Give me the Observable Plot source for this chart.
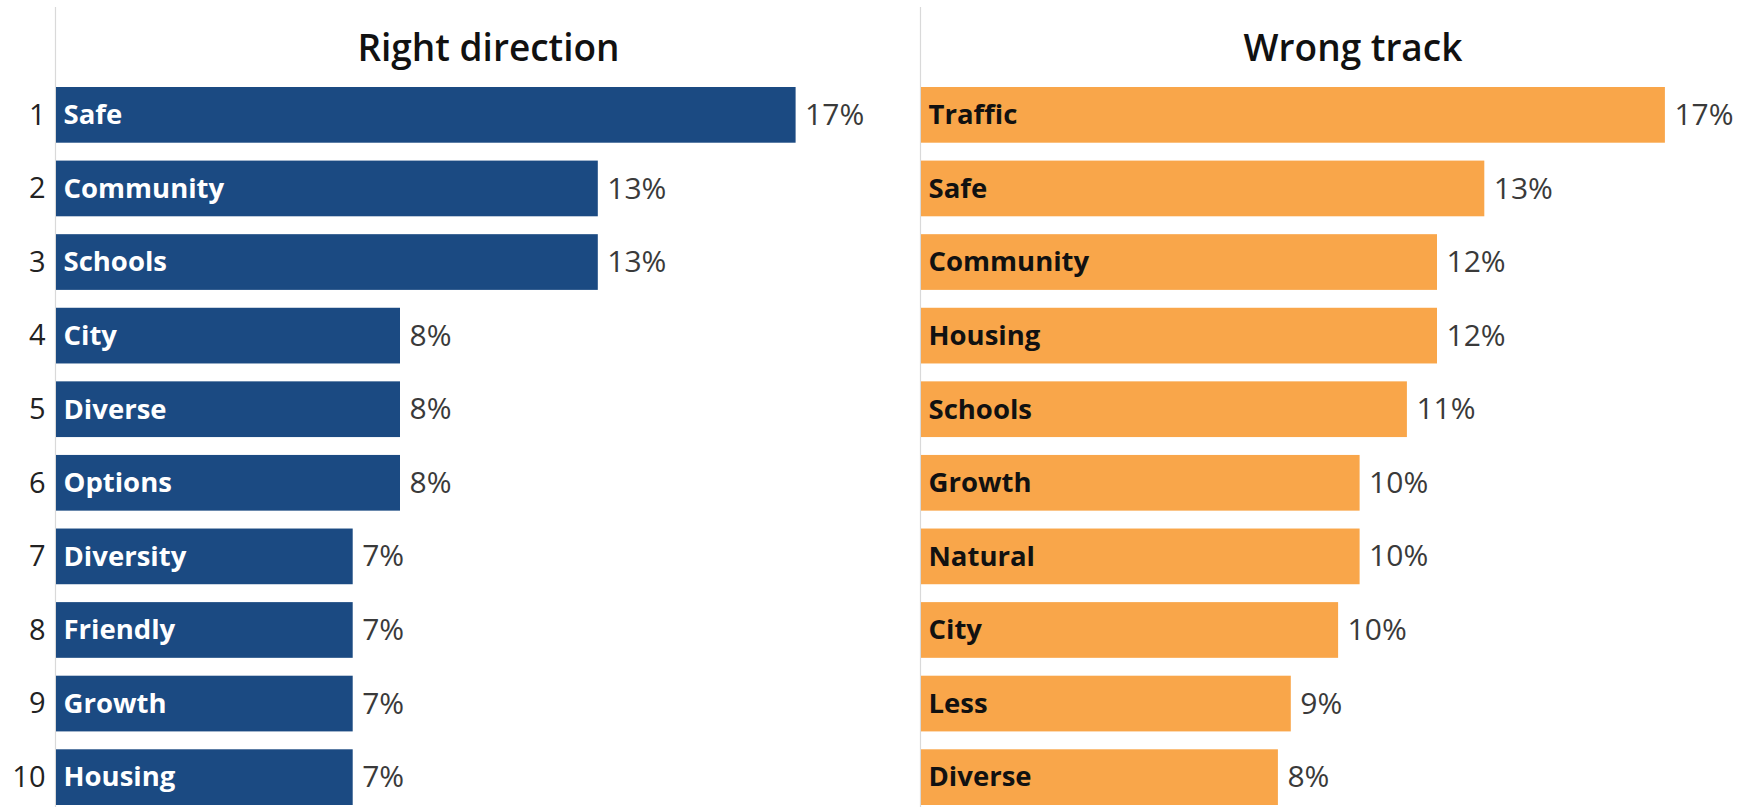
<!DOCTYPE html>
<html>
<head>
<meta charset="utf-8">
<script src="https://cdn.jsdelivr.net/npm/d3@7"></script>
<script src="https://cdn.jsdelivr.net/npm/@observablehq/plot@0.6"></script>
<style>
  html, body { margin: 0; padding: 0; background: #fff; overflow: hidden; }
  #wrap { display: flex; width: 1784px; }
  #wrap svg { display: block; overflow: visible; }
</style>
</head>
<body>
<div id="wrap"></div>
<script>
const ranks = [1, 2, 3, 4, 5, 6, 7, 8, 9, 10];
const rightCats = ["Safe", "Community", "Schools", "City", "Diverse", "Options", "Diversity", "Friendly", "Growth", "Housing"];
const rightVals = [17.2, 12.6, 12.6, 8.0, 8.0, 8.0, 6.9, 6.9, 6.9, 6.9];
const wrongCats = ["Traffic", "Safe", "Community", "Housing", "Schools", "Growth", "Natural", "City", "Less", "Diverse"];
const wrongVals = [17.3, 13.1, 12.0, 12.0, 11.3, 10.2, 10.2, 9.7, 8.6, 8.3];
const titles = ["Right direction", "Wrong track"];

const FONT = "'Open Sans', Lato, sans-serif";
const fmt = v => d3.format(".0f")(v) + "%";

function panel({cats, vals, title, fill, labelColor, width, marginLeft, showRank}) {
  const data = ranks.map((r, i) => ({rank: r, cat: cats[i], val: vals[i]}));
  const marks = [
    Plot.ruleX([0], {stroke: "#d9d9d9", strokeWidth: 1.2, dx: -1}),
    Plot.barX(data, {x: "val", y: "rank", fill}),
    Plot.text(data, {x: 0, y: "rank", text: "cat", textAnchor: "start", dx: 7,
      fill: labelColor, fontWeight: 700, fontSize: 27.5}),
    Plot.text(data, {x: "val", y: "rank", text: d => fmt(d.val), textAnchor: "start", dx: 9,
      fill: "#3a3a3a", fontSize: 30}),
    Plot.text([title], {frameAnchor: "top", dy: 27, fill: "#111", fontWeight: 600, fontSize: 37})
  ];
  if (showRank) {
    marks.push(Plot.axisY({tickSize: 0, tickPadding: 11, fontSize: 29, color: "#222", label: null}));
  }
  return Plot.plot({
    width,
    height: 807,
    marginLeft,
    marginRight: 0,
    marginTop: 7,
    marginBottom: 0,
    style: {fontFamily: FONT, background: "transparent"},
    x: {domain: [0, 20], range: [marginLeft, marginLeft + 860], axis: null},
    y: {domain: ranks, range: [87, 805], paddingInner: 0.243, paddingOuter: 0, round: false, axis: null},
    marks
  });
}

const wrap = document.getElementById("wrap");
wrap.append(panel({cats: rightCats, vals: rightVals, title: titles[0], fill: "#1b4a82", labelColor: "#ffffff", width: 920, marginLeft: 56, showRank: true}));
wrap.append(panel({cats: wrongCats, vals: wrongVals, title: titles[1], fill: "#f9a64a", labelColor: "#111111", width: 864, marginLeft: 1, showRank: false}));
</script>
</body>
</html>
